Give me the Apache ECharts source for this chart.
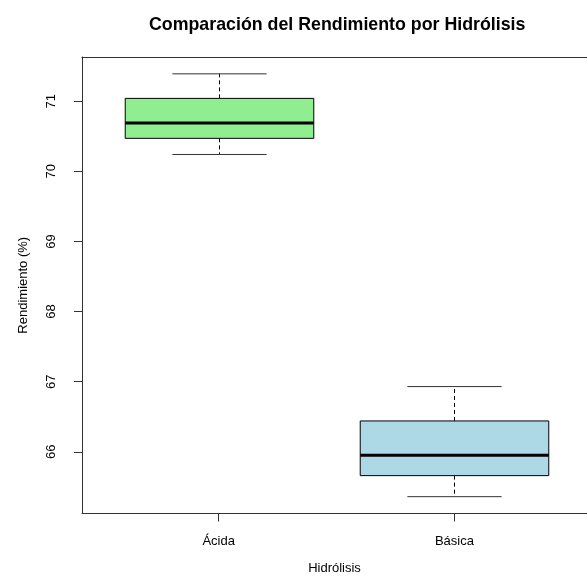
<!DOCTYPE html>
<html>
<head>
<meta charset="utf-8">
<script src="https://cdn.jsdelivr.net/npm/echarts@6/dist/echarts.min.js"></script>
<style>
html,body{margin:0;padding:0;background:#fff;}
#chart{width:587px;height:582px;}
</style>
</head>
<body>
<div id="chart"></div>
<script>
var categories = ['Ácida', 'Básica'];
var lowWhisker = [70.24, 65.36];
var q1 = [70.47, 65.66];
var median = [70.69, 65.95];
var q3 = [71.04, 66.44];
var highWhisker = [71.39, 66.93];
var fills = ['#90EE90', '#ADD8E6'];
var yTicks = [66, 67, 68, 69, 70, 71];
var xTicks = [1, 2];

var FONT = "'Liberation Sans', Arial, sans-serif";

var data = categories.map(function (c, i) {
  return [i + 1, lowWhisker[i], q1[i], median[i], q3[i], highWhisker[i]];
});

var chart = echarts.init(document.getElementById('chart'), null, {renderer: 'canvas'});

function renderItem(params, api) {
  var x = api.value(0);
  var idx = params.dataIndex;
  var lo = api.coord([x, api.value(1)]);
  var b1 = api.coord([x, api.value(2)]);
  var md = api.coord([x, api.value(3)]);
  var b3 = api.coord([x, api.value(4)]);
  var hi = api.coord([x, api.value(5)]);
  var boxW = api.size([0.8, 0])[0];
  var capW = api.size([0.4, 0])[0];
  var cx = Math.round(lo[0]) + 0.5;
  var black = '#000';
  return {
    type: 'group',
    children: [
      {type: 'line', shape: {x1: cx, y1: b3[1], x2: cx, y2: hi[1]},
       style: {stroke: black, lineWidth: 1, lineDash: [4, 3]}},
      {type: 'line', shape: {x1: cx, y1: b1[1], x2: cx, y2: lo[1]},
       style: {stroke: black, lineWidth: 1, lineDash: [4, 3]}},
      {type: 'line', shape: {x1: cx - capW / 2, y1: hi[1], x2: cx + capW / 2, y2: hi[1]},
       style: {stroke: '#333', lineWidth: 1}},
      {type: 'line', shape: {x1: cx - capW / 2, y1: lo[1], x2: cx + capW / 2, y2: lo[1]},
       style: {stroke: '#333', lineWidth: 1}},
      {type: 'rect', shape: {x: cx - boxW / 2, y: b3[1], width: boxW, height: b1[1] - b3[1]},
       style: {fill: fills[idx], stroke: black, lineWidth: 1}},
      {type: 'line', shape: {x1: cx - boxW / 2, y1: md[1], x2: cx + boxW / 2, y2: md[1]},
       style: {stroke: black, lineWidth: 3}}
    ]
  };
}

var lineCol = '#333';

var option = {
  animation: false,
  backgroundColor: '#fff',
  title: {
    text: 'Comparación del Rendimiento por Hidrólisis',
    left: 144,
    top: 11,
    textStyle: {fontFamily: FONT, fontSize: 17.8, fontWeight: 'bold', color: '#000'}
  },
  grid: {
    left: 82, top: 57, right: 0, height: 456.5,
    show: false
  },
  xAxis: [{
    type: 'value',
    min: 0.42, max: 2.5626,
    name: 'Hidrólisis',
    nameLocation: 'middle',
    nameGap: 48,
    nameTextStyle: {fontFamily: FONT, fontSize: 13, color: '#000'},
    splitLine: {show: false},
    axisLine: {show: true, onZero: false, lineStyle: {color: lineCol, width: 1}},
    axisTick: {show: true, customValues: xTicks, length: 8, inside: false, lineStyle: {color: lineCol, width: 1}},
    axisLabel: {
      show: true, customValues: xTicks, margin: 21,
      fontFamily: FONT, fontSize: 13, color: '#000',
      formatter: function (v) { return categories[Math.round(v) - 1] || ''; }
    }
  }, {
    type: 'value',
    position: 'top',
    min: 0.42, max: 2.5626,
    splitLine: {show: false},
    axisLine: {show: true, onZero: false, lineStyle: {color: lineCol, width: 1}},
    axisTick: {show: false},
    axisLabel: {show: false}
  }],
  yAxis: {
    type: 'value',
    min: 65.12, max: 71.63,
    name: 'Rendimiento (%)',
    nameLocation: 'middle',
    nameGap: 52,
    nameRotate: 90,
    nameTextStyle: {fontFamily: FONT, fontSize: 13, color: '#000'},
    splitLine: {show: false},
    axisLine: {show: true, onZero: false, lineStyle: {color: lineCol, width: 1}},
    axisTick: {show: true, customValues: yTicks, length: 8, inside: false, lineStyle: {color: lineCol, width: 1}},
    axisLabel: {
      show: true, customValues: yTicks, rotate: 90, margin: 24,
      fontFamily: FONT, fontSize: 13, color: '#000',
      formatter: function (v) { return String(Math.round(v)); }
    }
  },
  series: [{
    type: 'custom',
    xAxisIndex: 0,
    renderItem: renderItem,
    encode: {x: 0, y: [1, 2, 3, 4, 5]},
    data: data,
    clip: false
  }]
};
chart.setOption(option);
</script>
</body>
</html>
